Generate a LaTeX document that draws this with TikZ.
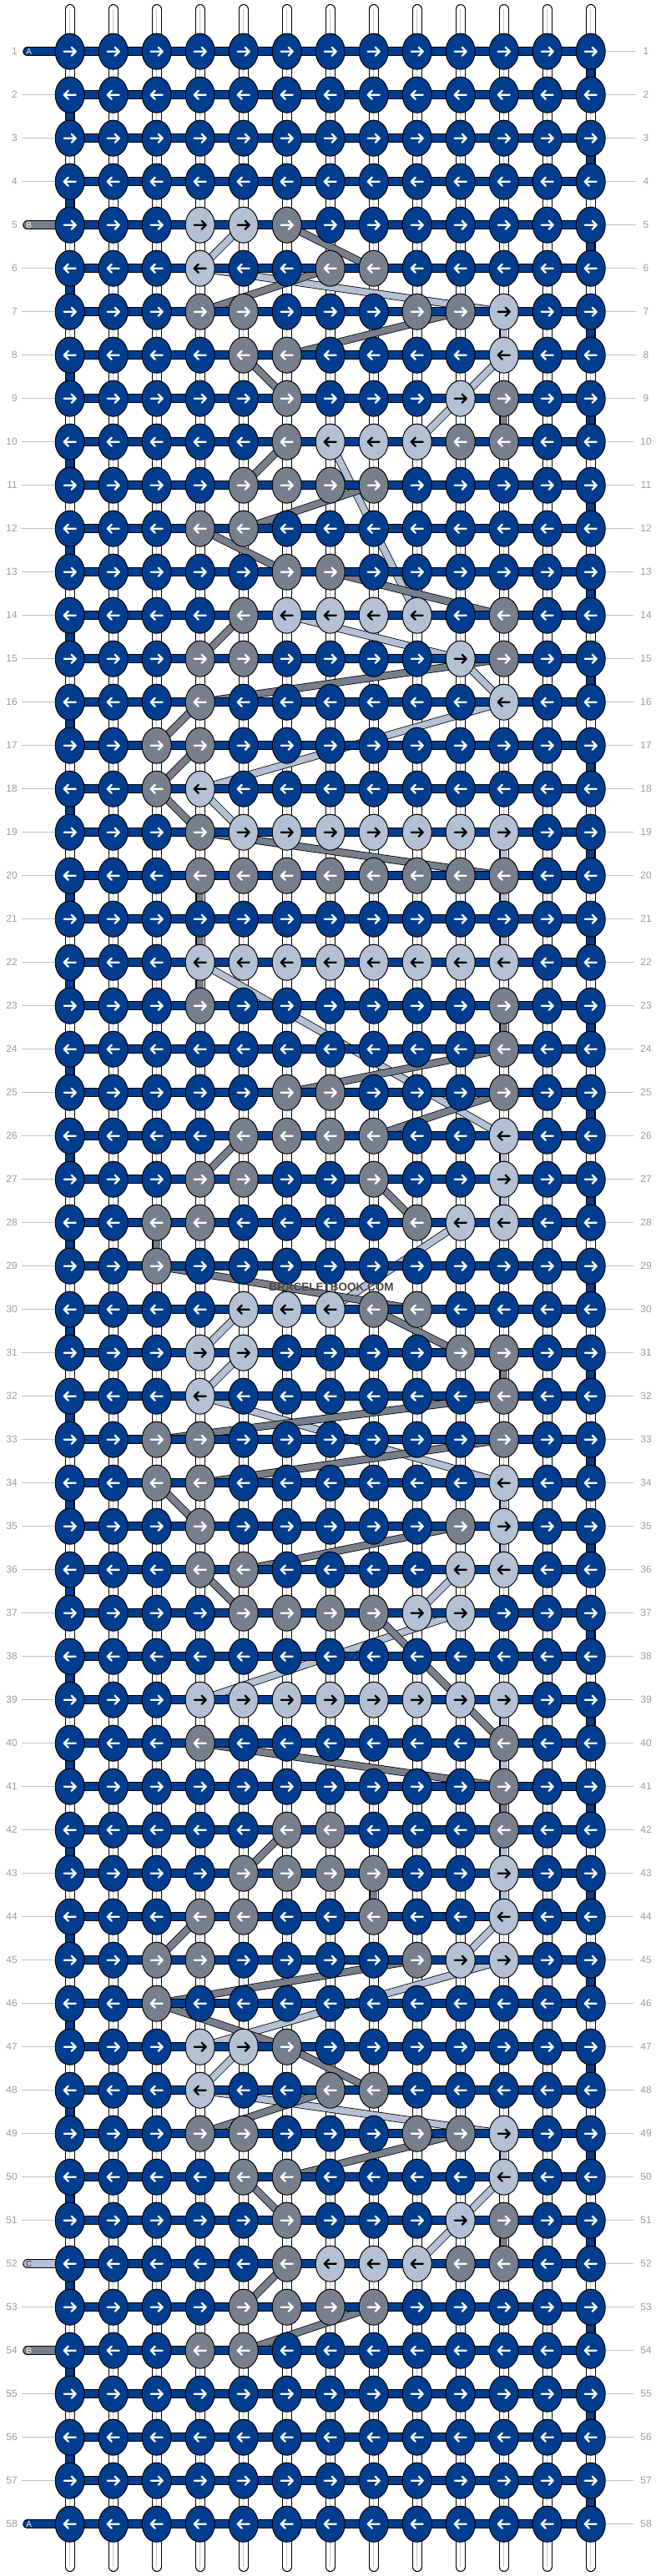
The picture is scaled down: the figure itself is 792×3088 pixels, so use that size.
\documentclass[tikz,border=0pt]{standalone}
\usepackage{fontspec}
\setmainfont{Liberation Sans}
\usetikzlibrary{shapes.geometric}
\definecolor{kB}{RGB}{0,61,143}
\definecolor{kL}{RGB}{180,192,212}
\definecolor{kG}{RGB}{120,127,140}
\colorlet{aB}{white}
\colorlet{aG}{white}
\colorlet{aL}{black}
\colorlet{tB}{white}
\colorlet{tG}{white}
\colorlet{tL}{black!80}
\definecolor{numgrey}{RGB}{155,155,155}
\definecolor{rulegrey}{RGB}{192,192,192}
\definecolor{stringgrey}{RGB}{200,200,200}
\pgfdeclarelayer{base}
\pgfdeclarelayer{threads}
\pgfdeclarelayer{bars}
\pgfsetlayers{base,threads,bars,main}
\newcommand\setcells[2]{\foreach \cellc/\cellk in {#2}{\expandafter\xdef\csname kc-#1-\cellc\endcsname{\cellk}}}
\newcommand\getcol[2]{\ifcsname kc-#1-#2\endcsname\edef\kcol{\csname kc-#1-#2\endcsname}\else\def\kcol{B}\fi}
\setcells{5}{4/L,5/L,6/G}
\setcells{6}{4/L,7/G,8/G}
\setcells{7}{4/G,5/G,9/G,10/G,11/L}
\setcells{8}{5/G,6/G,11/L}
\setcells{9}{6/G,10/L,11/G}
\setcells{10}{6/G,7/L,8/L,9/L,10/G,11/G}
\setcells{11}{5/G,6/G,7/G,8/G}
\setcells{12}{4/G,5/G}
\setcells{13}{6/G,7/G}
\setcells{14}{5/G,6/L,7/L,8/L,9/L,11/G}
\setcells{15}{4/G,5/G,10/L,11/G}
\setcells{16}{4/G,11/L}
\setcells{17}{3/G,4/G}
\setcells{18}{3/G,4/L}
\setcells{19}{4/G,5/L,6/L,7/L,8/L,9/L,10/L,11/L}
\setcells{20}{4/G,5/G,6/G,7/G,8/G,9/G,10/G,11/G}
\setcells{22}{4/L,5/L,6/L,7/L,8/L,9/L,10/L,11/L}
\setcells{23}{4/G,11/G}
\setcells{24}{11/G}
\setcells{25}{6/G,7/G,11/G}
\setcells{26}{5/G,6/G,7/G,8/G,11/L}
\setcells{27}{4/G,5/G,8/G,11/L}
\setcells{28}{3/G,4/G,9/G,10/L,11/L}
\setcells{29}{3/G}
\setcells{30}{5/L,6/L,7/L,8/G,9/G}
\setcells{31}{4/L,5/L,10/G,11/G}
\setcells{32}{4/L,11/G}
\setcells{33}{3/G,4/G,11/G}
\setcells{34}{3/G,4/G,11/L}
\setcells{35}{4/G,10/G,11/L}
\setcells{36}{4/G,5/G,10/L,11/L}
\setcells{37}{5/G,6/G,7/G,8/G,9/L,10/L}
\setcells{39}{4/L,5/L,6/L,7/L,8/L,9/L,10/L,11/L}
\setcells{40}{4/G,11/G}
\setcells{41}{11/G}
\setcells{42}{6/G,7/G,11/G}
\setcells{43}{5/G,6/G,7/G,8/G,11/L}
\setcells{44}{4/G,5/G,8/G,11/L}
\setcells{45}{3/G,4/G,9/G,10/L,11/L}
\setcells{46}{3/G}
\setcells{47}{4/L,5/L,6/G}
\setcells{48}{4/L,7/G,8/G}
\setcells{49}{4/G,5/G,9/G,10/G,11/L}
\setcells{50}{5/G,6/G,11/L}
\setcells{51}{6/G,10/L,11/G}
\setcells{52}{6/G,7/L,8/L,9/L,10/G,11/G}
\setcells{53}{5/G,6/G,7/G,8/G}
\setcells{54}{4/G,5/G}
\begin{document}
\begin{tikzpicture}[x=1pt,y=-1pt,
  knot/.style={ellipse,draw=black,line width=1pt,minimum width=35pt,minimum height=43pt,inner sep=0pt},
  arrowpen/.style={line width=2.3pt,line cap=round,line join=round},
  num/.style={text=numgrey,font=\fontsize{12}{14}\selectfont,inner sep=0pt},
  rowrule/.style={draw=rulegrey,line width=1pt},
  baroutline/.style={draw=black,line width=11.5pt},
  barfill/.style={line width=9.5pt},
  throut/.style={draw=black,line width=9.2pt},
  thrfill/.style={line width=7.6pt},
  tabletter/.style={font=\fontsize{10}{12}\selectfont,inner sep=0pt}]
\useasboundingbox (0,0) rectangle (792,3088);
\begin{pgfonlayer}{base}
\fill[white] (0,0) rectangle (792,3088);
\end{pgfonlayer}
% knots
\foreach \r in {1,...,58}{
  \foreach \c in {1,...,13}{
    \getcol{\r}{\c}
    \node[knot,fill=k\kcol] (k-\r-\c) at ({83.7+52*(\c-1)},{61.7+52*(\r-1)}) {};
    \ifodd\r\relax
      \draw[arrowpen,draw=a\kcol] (k-\r-\c.center) ++(-7,0) -- ++(14,0) ++(-5,-5) -- ++(5,5) -- ++(-5,5);
    \else
      \draw[arrowpen,draw=a\kcol] (k-\r-\c.center) ++(7,0) -- ++(-14,0) ++(5,-5) -- ++(-5,5) -- ++(5,5);
    \fi
  }
}
% vertical base strings
\begin{pgfonlayer}{base}
\foreach \c in {1,...,13}{
  \coordinate (st-\c) at (k-1-\c |- 0,11);
  \coordinate (sb-\c) at (k-58-\c |- 0,3077);
  \draw[line width=12pt,black,line cap=round] (st-\c) -- (sb-\c);
  \draw[line width=10pt,white,line cap=round] (st-\c) -- (sb-\c);
  \draw[line width=0.8pt,stringgrey] (st-\c) -- (sb-\c);
}
\end{pgfonlayer}
% coloured threads carried between knots
\begin{pgfonlayer}{threads}
\foreach \colr in {L,G}{
  \edef\curcol{\colr}
  \gdef\lastk{}\gdef\lastr{0}
  \foreach \r in {1,...,58}{
    \foreach \i in {1,...,13}{
      \ifodd\r\relax \edef\c{\i}\else \pgfmathtruncatemacro\c{14-\i}\fi
      \getcol{\r}{\c}
      \ifx\kcol\curcol
        \ifx\lastk\empty\else
          \ifnum\lastr=\r\relax\else
            \draw[throut] (\lastk.center) -- (k-\r-\c.center);
            \draw[thrfill,draw=k\curcol] (\lastk.center) -- (k-\r-\c.center);
          \fi
        \fi
        \xdef\lastk{k-\r-\c}\xdef\lastr{\r}
      \fi
    }
  }
}
\end{pgfonlayer}
% rows of the working string
\begin{pgfonlayer}{bars}
\foreach \r in {1,...,58}{
  \draw[baroutline] (k-\r-1.center) -- (k-\r-13.center);
  \draw[barfill,draw=kB] (k-\r-1.center) -- (k-\r-13.center);
}
\foreach \r [evaluate=\r as \rn using int(\r+1)] in {1,3,...,57}{
  \draw[line width=11.5pt,black] (k-\r-13.center) -- (k-\rn-13.center);
  \draw[line width=9.5pt,kB] (k-\r-13.center) -- (k-\rn-13.center);
}
\foreach \r [evaluate=\r as \rn using int(\r+1)] in {2,4,...,56}{
  \draw[line width=11.5pt,black] (k-\r-1.center) -- (k-\rn-1.center);
  \draw[line width=9.5pt,kB] (k-\r-1.center) -- (k-\rn-1.center);
}
\foreach \r/\tabl/\tabc in {1/A/B,5/B/G,52/C/L,54/B/G,58/A/B}{
  \coordinate (tab-\r) at (33,{61.7+52*(\r-1)});
  \draw[baroutline,line cap=round] (tab-\r) -- (k-\r-1.center);
  \draw[barfill,line cap=round,draw=k\tabc] (tab-\r) -- (k-\r-1.center);
}
\end{pgfonlayer}
\foreach \r/\tabl/\tabc in {1/A/B,5/B/G,52/C/L,54/B/G,58/A/B}{
  \node[tabletter,text=t\tabc] (tl-\r) at (34.7,{61.7+52*(\r-1)}) {\tabl};
}
% row numbers
\foreach \r in {1,...,58}{
  \node[num,anchor=east] (ln-\r) at (21,{61.7+52*(\r-1)}) {\r};
  \node[num] (rn-\r) at (774,{61.7+52*(\r-1)}) {\r};
  \draw[rowrule] (k-\r-13.east) -- ([xshift=-8pt]rn-\r.west);
}
\foreach \r in {2,3,4,6,7,...,51,53,55,56,57}{
  \draw[rowrule] ([xshift=5pt]ln-\r.east) -- (k-\r-1.west);
}
\node[font=\bfseries\fontsize{13.5}{16}\selectfont,text=black!72] (wm) at (397,1543) {BRACELETBOOK.COM};
\end{tikzpicture}
\end{document}
